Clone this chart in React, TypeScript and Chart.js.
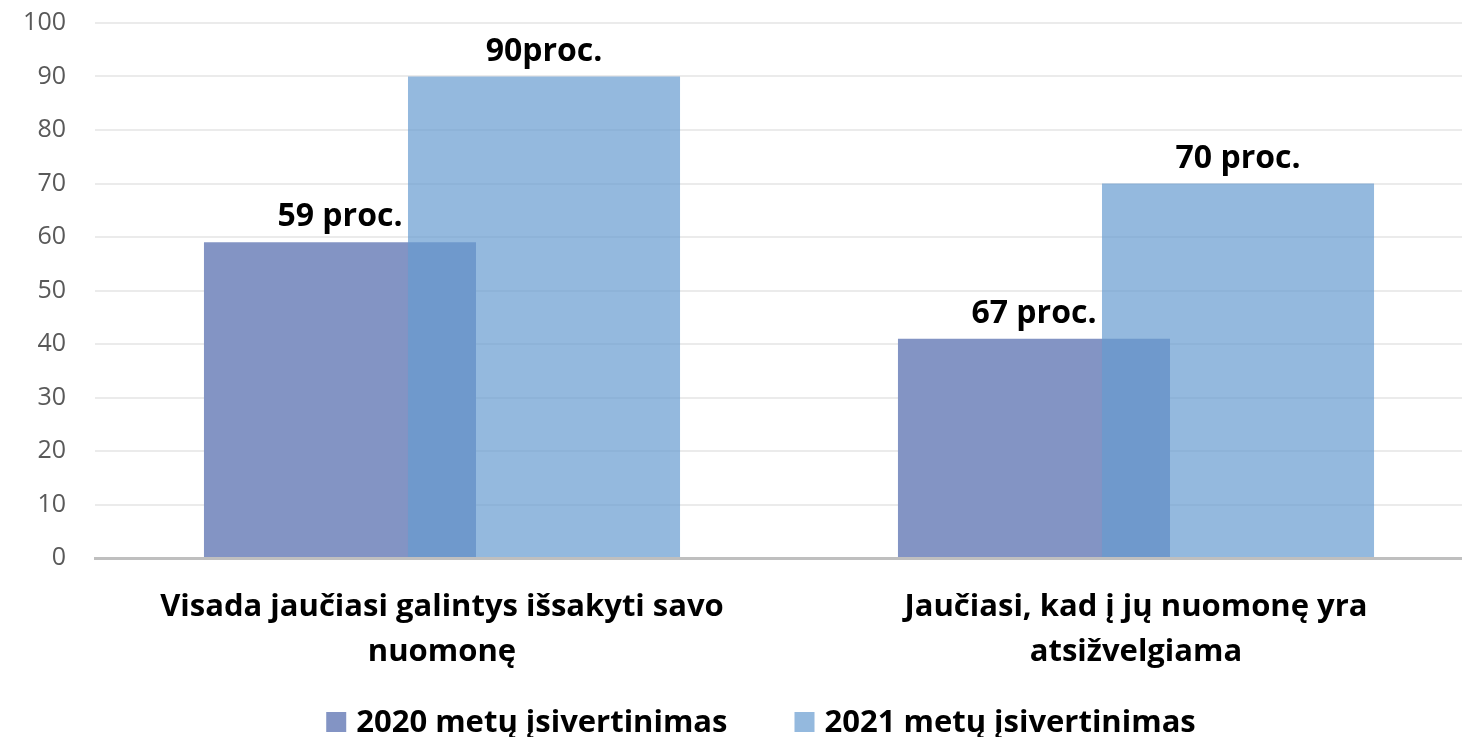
import React, { useEffect, useRef } from "react";
import { Chart, registerables } from "chart.js";

Chart.register(...registerables);

const categories: string[][] = [
  ["Visada jaučiasi galintys išsakyti savo", "nuomonę"],
  ["Jaučiasi, kad į jų nuomonę yra", "atsižvelgiama"],
];
const seriesNames = ["2020 metų įsivertinimas", "2021 metų įsivertinimas"];
const values2020 = [59, 41];
const values2021 = [90, 70];
const labels2020 = ["59 proc.", "67 proc."];
const labels2021 = ["90proc.", "70 proc."];
const yMin = 0;
const yMax = 100;
const yStep = 10;

const FONT = "'Open Sans', 'DejaVu Sans', sans-serif";
const COLOR_2020 = "rgb(131,148,196)";
const COLOR_2021 = "rgba(102,155,208,0.7)";

// Draw datasets in index order so the 2021 bars sit on top of the 2020 bars
const drawOrderPlugin = {
  id: "drawOrder",
  beforeDatasetDraw() {
    return false;
  },
  afterDatasetsDraw(chart: any) {
    for (let i = 0; i < chart.data.datasets.length; i++) {
      chart.getDatasetMeta(i).controller.draw();
    }
  },
};

const dataLabelPlugin = {
  id: "dataLabels",
  afterDatasetsDraw(chart: any) {
    const ctx = chart.ctx;
    const all = [labels2020, labels2021];
    ctx.save();
    ctx.font = `bold 32px ${FONT}`;
    ctx.fillStyle = "#000";
    ctx.textAlign = "center";
    ctx.textBaseline = "alphabetic";
    chart.data.datasets.forEach((_ds: any, i: number) => {
      const meta = chart.getDatasetMeta(i);
      meta.data.forEach((bar: any, j: number) => {
        ctx.fillText(all[i][j], bar.x, bar.y - 16);
      });
    });
    ctx.restore();
  },
};

const legendPlugin = {
  id: "customLegend",
  afterDraw(chart: any) {
    const ctx = chart.ctx;
    const ds = chart.data.datasets;
    ctx.save();
    ctx.font = `bold 31px ${FONT}`;
    const box = 20;
    const gap = 10;
    const itemGap = 67;
    const widths = ds.map((d: any) => ctx.measureText(d.label).width);
    const total =
      widths.reduce((a: number, w: number) => a + box + gap + w, 0) +
      itemGap * (ds.length - 1);
    const cx = 761;
    const cy = 722;
    let x = cx - total / 2;
    ds.forEach((d: any, i: number) => {
      ctx.fillStyle = d.backgroundColor;
      ctx.fillRect(x, cy - box / 2, box, box);
      ctx.fillStyle = "#000";
      ctx.textAlign = "left";
      ctx.textBaseline = "middle";
      ctx.fillText(d.label, x + box + gap, cy + 1);
      x += box + gap + widths[i] + itemGap;
    });
    ctx.restore();
  },
};

export default function App() {
  const ref = useRef<HTMLCanvasElement | null>(null);

  useEffect(() => {
    if (!ref.current) return;
    const chart = new Chart(ref.current, {
      type: "bar",
      data: {
        labels: categories,
        datasets: [
          {
            label: seriesNames[0],
            data: values2020,
            backgroundColor: COLOR_2020,
            borderWidth: 0,
          },
          {
            label: seriesNames[1],
            data: values2021,
            backgroundColor: COLOR_2021,
            borderWidth: 0,
          },
        ],
      },
      options: {
        responsive: false,
        animation: false,
        devicePixelRatio: 1,
        categoryPercentage: 0.588,
        barPercentage: 1.3333,
        layout: { padding: { left: 0, right: 0, top: 23, bottom: 47 } },
        plugins: {
          legend: { display: false },
          tooltip: { enabled: false },
        },
        scales: {
          x: {
            grid: { display: false, drawTicks: false, tickLength: 0 },
            border: { display: true, color: "#bfbfbf", width: 3 },
            ticks: {
              color: "#000",
              font: { family: FONT, size: 31, weight: "bold", lineHeight: 1.45 },
              padding: 27,
              maxRotation: 0,
              autoSkip: false,
            },
            afterFit(scale: any) {
              scale.height = 132;
            },
          },
          y: {
            min: yMin,
            max: yMax,
            grid: {
              color: "#ebebeb",
              lineWidth: 2,
              drawTicks: true,
              tickLength: 29,
              tickColor: "rgba(0,0,0,0)",
            },
            border: { display: false },
            ticks: {
              stepSize: yStep,
              color: "#595959",
              font: { family: FONT, size: 25 },
              padding: 0,
            },
            afterFit(scale: any) {
              scale.width = 95;
            },
          },
        },
      } as any,
      plugins: [drawOrderPlugin, dataLabelPlugin, legendPlugin],
    });
    return () => chart.destroy();
  }, []);

  return (
    <div
      style={{
        position: "absolute",
        left: 0,
        top: 0,
        width: 1462,
        height: 737,
        overflow: "hidden",
        background: "#fff",
      }}
    >
      <canvas ref={ref} width={1483} height={737} style={{ display: "block" }} />
    </div>
  );
}
